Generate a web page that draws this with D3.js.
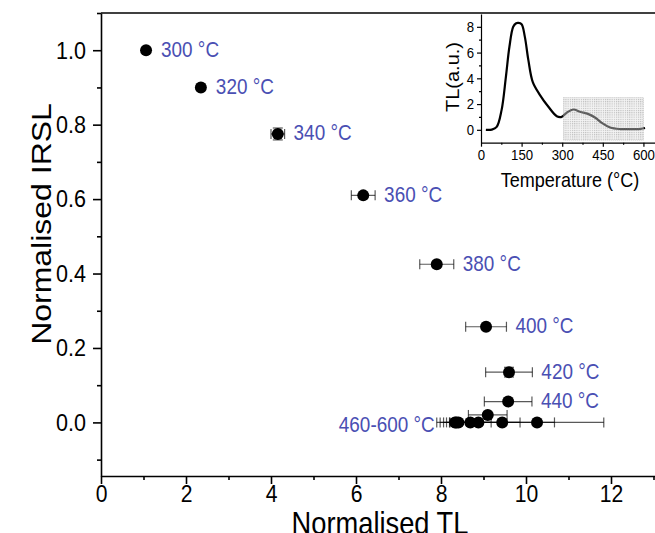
<!DOCTYPE html>
<html>
<head>
<meta charset="utf-8">
<title>Normalised IRSL vs Normalised TL</title>
<style>
  body { margin: 0; background: #fff; }
  svg { display: block; font-family: "Liberation Sans", Arial, sans-serif; }
  .sq { transform-box: fill-box; transform: scaleX(0.88); }
  .sq-l { transform-origin: left center; }
  .sq-c { transform-origin: center; }
  .sq-r { transform-origin: right center; }
  .label { fill: #4a4fb3; font-size: 21.5px; }
</style>
</head>
<body>
<svg id="chart" width="655" height="533"></svg>
<script src="https://cdn.jsdelivr.net/npm/d3@7"></script>
<script>
// preheat steps, normalised TL (x) and IRSL (y) with errors
const temps = [300, 320, 340, 360, 380, 400, 420, 440, 460, 480, 500, 520, 540, 560, 580, 600];
const tlValues = [1.06, 2.35, 4.16, 6.17, 7.9, 9.06, 9.6, 9.58, 9.1, 8.33, 8.41, 8.69, 8.88, 9.44, 10.26, 8.36];
const tlErrors = [0, 0.04, 0.16, 0.28, 0.4, 0.48, 0.55, 0.56, 0.455, 0.35, 0.28, 0.49, 0.98, 1.23, 1.57, 0.3];
const irslValues = [1.0, 0.9, 0.775, 0.61, 0.425, 0.257, 0.135, 0.056, 0.02, 0, 0, 0, 0, 0, 0, 0];
const irslErrors = [0, 0, 0.016, 0, 0, 0, 0.013, 0, 0, 0, 0, 0, 0, 0, 0, 0];
const pointLabels = ["300 °C", "320 °C", "340 °C", "360 °C", "380 °C", "400 °C", "420 °C", "440 °C"];
const groupLabel = "460-600 °C";
const groupFrom = 460;

const xTicks = [0, 2, 4, 6, 8, 10, 12];
const xMinor = [1, 3, 5, 7, 9, 11, 13];
const yTicks = [0, 0.2, 0.4, 0.6, 0.8, 1.0];
const yMinor = [-0.1, 0.1, 0.3, 0.5, 0.7, 0.9, 1.1];

// inset: TL glow curve
const insetTemp = [18, 40, 58, 76, 92, 105, 119, 130, 138, 150, 162, 175, 191, 218, 249, 280, 298, 316, 341, 366, 397, 421, 446, 477, 514, 563, 590, 606];
const insetTL = [0, 0.02, 0.23, 1.53, 4.12, 6.45, 8.0, 8.28, 8.31, 8.2, 7.22, 5.41, 3.73, 2.7, 1.79, 1.06, 1.01, 1.32, 1.58, 1.4, 1.22, 0.96, 0.54, 0.18, 0.06, 0.06, 0.08, 0.14];
const insetXTicks = [0, 150, 300, 450, 600];
const insetXMinor = [75, 225, 375, 525];
const insetYTicks = [0, 2, 4, 6, 8];
const insetYMinor = [1, 3, 5, 7];
const shadeTemp = [305, 600];
const shadeTL = [-0.8, 2.5];

const svg = d3.select("#chart");

const x = d3.scaleLinear().domain([0, 13.1]).range([101, 101 + 13.1 * 42.5]);
const y = d3.scaleLinear().domain([-0.144, 1.1]).range([476, 13]);

// main axes
const gx = svg.append("g").attr("transform", "translate(0,476)")
  .call(d3.axisBottom(x).tickValues(xTicks).tickSize(8).tickSizeOuter(0).tickPadding(1));
svg.append("g").attr("transform", "translate(0,476)")
  .call(d3.axisBottom(x).tickValues(xMinor).tickSize(4).tickFormat(""))
  .select(".domain").remove();
const gy = svg.append("g").attr("transform", "translate(101,0)")
  .call(d3.axisLeft(y).tickValues(yTicks).tickSize(8).tickSizeOuter(0).tickPadding(7).tickFormat(d3.format(".1f")));
svg.append("g").attr("transform", "translate(101,0)")
  .call(d3.axisLeft(y).tickValues(yMinor).tickSize(4).tickFormat(""))
  .select(".domain").remove();

svg.selectAll(".tick line, .domain").attr("stroke", "#000").attr("stroke-width", 1.6);
gx.selectAll("text").attr("font-size", 24).attr("font-family", null).attr("fill", "#000").attr("class", "sq sq-c");
gy.selectAll("text").attr("font-size", 24.5).attr("font-family", null).attr("fill", "#000").attr("class", "sq sq-r");

// top frame line
svg.append("line")
  .attr("x1", x(0)).attr("x2", 655)
  .attr("y1", y.range()[1]).attr("y2", y.range()[1])
  .attr("stroke", "#000").attr("stroke-width", 1.6);

// axis titles
svg.append("text")
  .attr("class", "sq sq-c")
  .attr("x", 380).attr("y", 534)
  .attr("text-anchor", "middle")
  .attr("font-size", 31)
  .text("Normalised TL");
svg.append("text")
  .attr("transform", "translate(51,224) scale(0.88,1) rotate(-90)")
  .attr("text-anchor", "middle")
  .attr("font-size", 32)
  .text("Normalised IRSL");

// points
const points = temps.map((t, i) => ({
  t, tl: tlValues[i], e: tlErrors[i], irsl: irslValues[i], ye: irslErrors[i]
}));

const bars = svg.append("g").attr("stroke", "#000").attr("stroke-opacity", 0.65).attr("stroke-width", 1.2);
points.forEach(p => {
  if (p.e > 0) {
    bars.append("line").attr("x1", x(p.tl - p.e)).attr("x2", x(p.tl + p.e)).attr("y1", y(p.irsl)).attr("y2", y(p.irsl));
    [p.tl - p.e, p.tl + p.e].forEach(v => {
      bars.append("line").attr("x1", x(v)).attr("x2", x(v)).attr("y1", y(p.irsl) - 5).attr("y2", y(p.irsl) + 5);
    });
  }
  if (p.ye > 0) {
    bars.append("line").attr("x1", x(p.tl)).attr("x2", x(p.tl)).attr("y1", y(p.irsl - p.ye)).attr("y2", y(p.irsl + p.ye));
    [p.irsl - p.ye, p.irsl + p.ye].forEach(v => {
      bars.append("line").attr("x1", x(p.tl) - 5).attr("x2", x(p.tl) + 5).attr("y1", y(v)).attr("y2", y(v));
    });
  }
});

svg.append("g").selectAll("circle")
  .data(points)
  .join("circle")
  .attr("cx", d => x(d.tl))
  .attr("cy", d => y(d.irsl))
  .attr("r", 6)
  .attr("fill", "#000");

// labels
svg.append("g").selectAll("text")
  .data(points.slice(0, pointLabels.length))
  .join("text")
  .attr("class", "label sq sq-l")
  .attr("x", d => Math.max(x(d.tl) + 6, x(d.tl + d.e)) + 9)
  .attr("y", d => y(d.irsl) - 1)
  .attr("dy", "0.35em")
  .text((d, i) => pointLabels[i]);

const group = points.filter(p => p.t >= groupFrom && p.irsl === 0);
svg.append("text")
  .attr("class", "label sq sq-r")
  .attr("x", x(d3.min(group, p => p.tl - p.e)) - 2)
  .attr("y", y(0) + 2)
  .attr("dy", "0.35em")
  .attr("text-anchor", "end")
  .text(groupLabel);

// inset
const ix = d3.scaleLinear().domain([0, 660]).range([481, 481 + 660 * 0.2707]);
const iy = d3.scaleLinear().domain([-1, 9]).range([142.7, 13.95]);
const inset = svg.append("g");

const defs = svg.append("defs");
const pat = defs.append("pattern").attr("id", "dots")
  .attr("width", 2.2).attr("height", 2.2).attr("patternUnits", "userSpaceOnUse");
pat.append("rect").attr("width", 2.2).attr("height", 2.2).attr("fill", "rgba(225,225,225,0.4)");
pat.append("rect").attr("width", 1.1).attr("height", 1.1).attr("fill", "rgba(130,130,130,0.5)");

inset.append("path")
  .datum(insetTemp.map((t, i) => [t, insetTL[i]]))
  .attr("d", d3.line().x(d => ix(d[0])).y(d => iy(d[1])).curve(d3.curveCatmullRom.alpha(0.5)))
  .attr("fill", "none")
  .attr("stroke", "#000")
  .attr("stroke-width", 2.2);

inset.append("rect")
  .attr("x", ix(shadeTemp[0])).attr("width", ix(shadeTemp[1]) - ix(shadeTemp[0]))
  .attr("y", iy(shadeTL[1])).attr("height", iy(shadeTL[0]) - iy(shadeTL[1]))
  .attr("fill", "url(#dots)")
  .attr("stroke", "#aaa").attr("stroke-width", 0.6).attr("stroke-dasharray", "1,1");

const igx = inset.append("g").attr("transform", "translate(0,142.7)")
  .call(d3.axisBottom(ix).tickValues(insetXTicks).tickSize(4).tickSizeOuter(0).tickPadding(3));
inset.append("g").attr("transform", "translate(0,142.7)")
  .call(d3.axisBottom(ix).tickValues(insetXMinor).tickSize(2).tickFormat(""))
  .select(".domain").remove();
const igy = inset.append("g").attr("transform", "translate(481,0)")
  .call(d3.axisLeft(iy).tickValues(insetYTicks).tickSize(4).tickSizeOuter(0).tickPadding(3));
inset.append("g").attr("transform", "translate(481,0)")
  .call(d3.axisLeft(iy).tickValues(insetYMinor).tickSize(2).tickFormat(""))
  .select(".domain").remove();
inset.selectAll(".tick line, .domain").attr("stroke", "#000").attr("stroke-width", 1.2);
igx.selectAll("text").attr("font-size", 15).attr("font-family", null).attr("fill", "#000").attr("class", "sq sq-c");
igy.selectAll("text").attr("font-size", 15).attr("font-family", null).attr("fill", "#000").attr("class", "sq sq-r");

inset.append("text")
  .attr("class", "sq sq-c")
  .attr("x", 570).attr("y", 187)
  .attr("text-anchor", "middle")
  .attr("font-size", 20.5)
  .text("Temperature (°C)");
inset.append("text")
  .attr("transform", "translate(459,77) scale(0.88,1) rotate(-90)")
  .attr("text-anchor", "middle")
  .attr("font-size", 20)
  .text("TL(a.u.)");
</script>
</body>
</html>
